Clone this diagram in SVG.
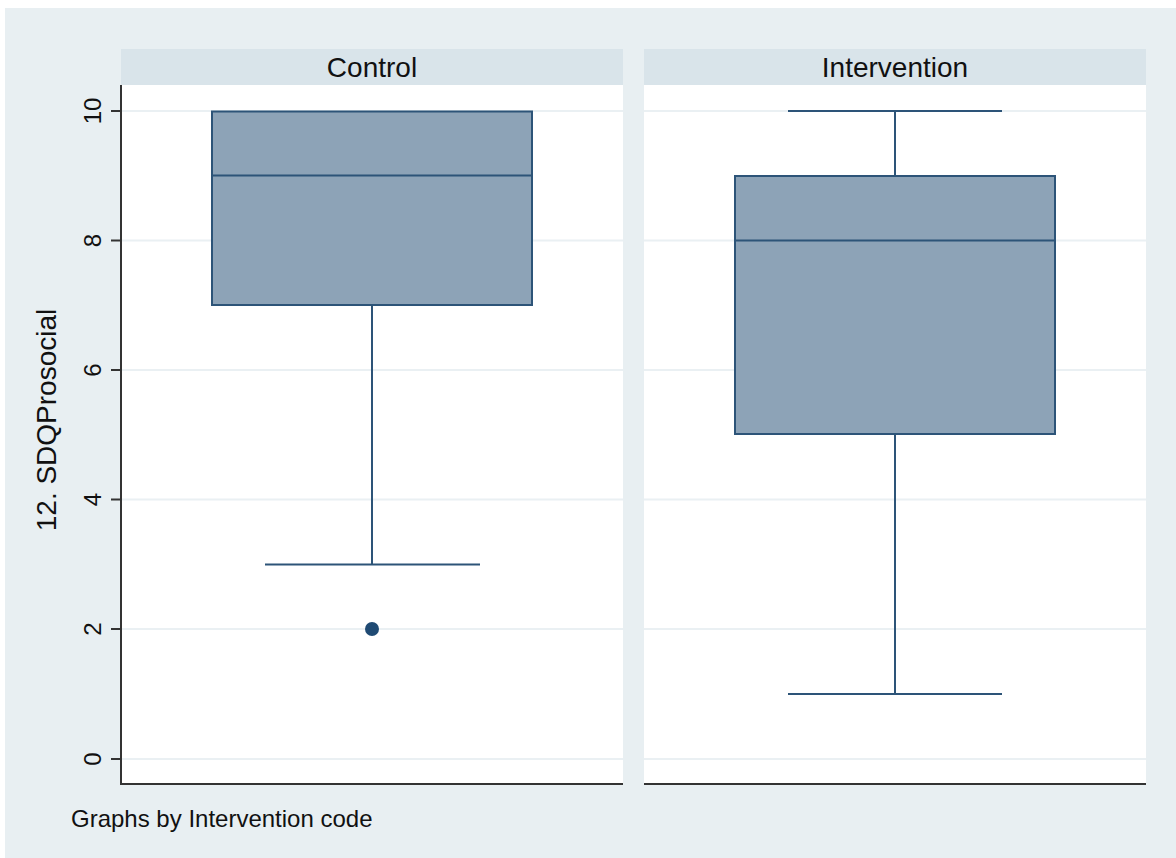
<svg xmlns="http://www.w3.org/2000/svg" width="1176" height="858" viewBox="0 0 1176 858">
<style>
.grid{stroke:#eaf0f3;stroke-width:2}
.axis{stroke:#333;stroke-width:2;fill:none}
.box{fill:#8da3b7;stroke:#2d5478;stroke-width:2}
.wh{stroke:#2d5478;stroke-width:2;fill:none}
.tl{font-family:"Liberation Sans",Arial,sans-serif;font-size:24px;fill:#111;text-anchor:middle}
.hd{font-family:"Liberation Sans",Arial,sans-serif;font-size:28px;fill:#111;text-anchor:middle}
</style>
<rect x="0" y="0" width="1176" height="858" fill="#fff"/>
<rect x="5" y="8" width="1171" height="850" fill="#e8eff2"/>
<g id="panel-control">
<rect x="121" y="49" width="502" height="36" fill="#d9e4ea"/>
<text class="hd" x="372" y="77">Control</text>
<rect x="121" y="85" width="502" height="700" fill="#fff"/>
</g>
<g id="panel-intervention">
<rect x="644" y="49" width="502" height="36" fill="#d9e4ea"/>
<text class="hd" x="895" y="77">Intervention</text>
<rect x="644" y="85" width="502" height="700" fill="#fff"/>
</g>
<g id="grid">
<line class="grid" x1="121" y1="111" x2="623" y2="111"/><line class="grid" x1="644" y1="111" x2="1146" y2="111"/>
<line class="grid" x1="121" y1="240.5" x2="623" y2="240.5"/><line class="grid" x1="644" y1="240.5" x2="1146" y2="240.5"/>
<line class="grid" x1="121" y1="370" x2="623" y2="370"/><line class="grid" x1="644" y1="370" x2="1146" y2="370"/>
<line class="grid" x1="121" y1="499.5" x2="623" y2="499.5"/><line class="grid" x1="644" y1="499.5" x2="1146" y2="499.5"/>
<line class="grid" x1="121" y1="629" x2="623" y2="629"/><line class="grid" x1="644" y1="629" x2="1146" y2="629"/>
<line class="grid" x1="121" y1="759" x2="623" y2="759"/><line class="grid" x1="644" y1="759" x2="1146" y2="759"/>
</g>
<g id="y-axis">
<line class="axis" x1="121" y1="85" x2="121" y2="785"/>
<line class="axis" x1="111" y1="111" x2="121" y2="111"/>
<line class="axis" x1="111" y1="240.5" x2="121" y2="240.5"/>
<line class="axis" x1="111" y1="370" x2="121" y2="370"/>
<line class="axis" x1="111" y1="499.5" x2="121" y2="499.5"/>
<line class="axis" x1="111" y1="629" x2="121" y2="629"/>
<line class="axis" x1="111" y1="759" x2="121" y2="759"/>
<text class="tl" transform="translate(101,111) rotate(-90)">10</text>
<text class="tl" transform="translate(101,240.5) rotate(-90)">8</text>
<text class="tl" transform="translate(101,370) rotate(-90)">6</text>
<text class="tl" transform="translate(101,499.5) rotate(-90)">4</text>
<text class="tl" transform="translate(101,629) rotate(-90)">2</text>
<text class="tl" transform="translate(101,759) rotate(-90)">0</text>
<text class="hd" transform="translate(56,420) rotate(-90)">12. SDQProsocial</text>
</g>
<g id="x-axes">
<line class="axis" x1="120" y1="784" x2="623" y2="784"/>
<line class="axis" x1="644" y1="784" x2="1146" y2="784"/>
</g>
<g id="box-control">
<line class="wh" x1="372" y1="305" x2="372" y2="564.5"/>
<line class="wh" x1="265" y1="564.5" x2="480" y2="564.5"/>
<rect class="box" x="212" y="111.5" width="320" height="193.5"/>
<line class="wh" x1="212" y1="175.5" x2="532" y2="175.5"/>
<circle cx="372" cy="629" r="7" fill="#1f4a73"/>
</g>
<g id="box-intervention">
<line class="wh" x1="895" y1="111" x2="895" y2="176"/>
<line class="wh" x1="788" y1="111" x2="1002" y2="111"/>
<line class="wh" x1="895" y1="434" x2="895" y2="694"/>
<line class="wh" x1="788" y1="694" x2="1002" y2="694"/>
<rect class="box" x="735" y="176" width="320" height="258"/>
<line class="wh" x1="735" y1="240.5" x2="1055" y2="240.5"/>
</g>
<text x="71" y="827" style="font-family:'Liberation Sans',Arial,sans-serif;font-size:24px;fill:#111">Graphs by Intervention code</text>
</svg>
